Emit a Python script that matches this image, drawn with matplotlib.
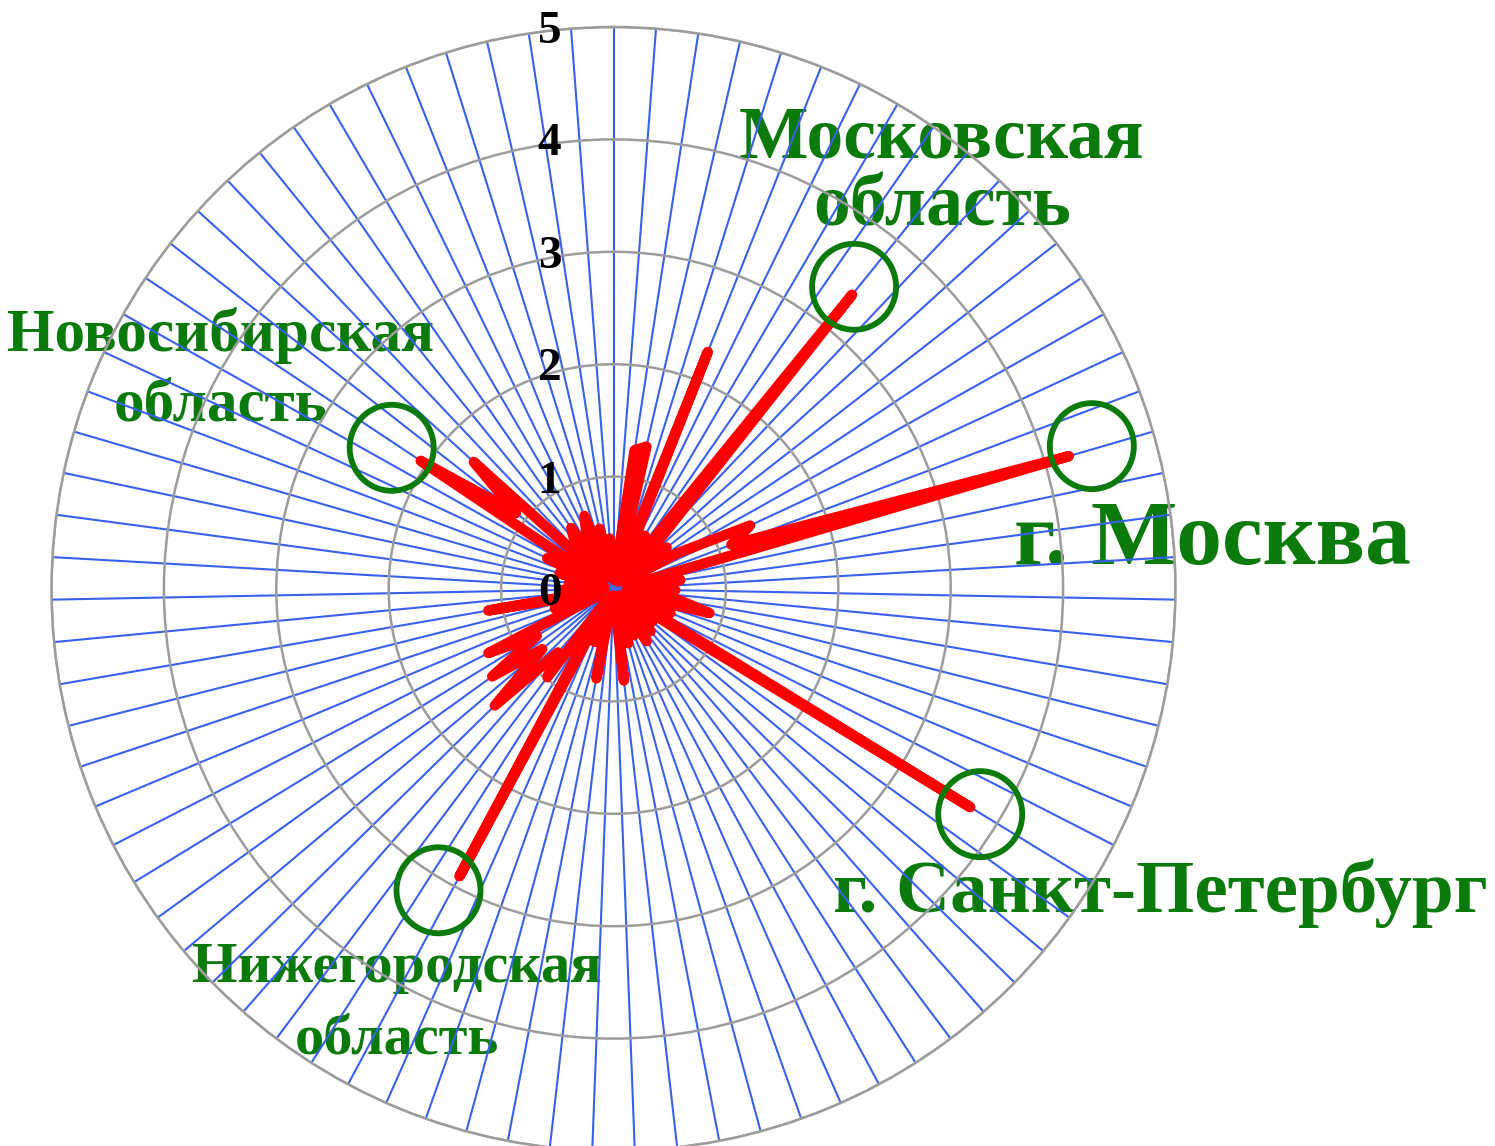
import matplotlib

matplotlib.use("Agg")

import matplotlib.pyplot as plt
import numpy as np
from matplotlib.patches import Ellipse
from matplotlib.transforms import IdentityTransform

# 83 regions, clockwise from the top
region_values = [
    0.10, 0.08, 1.25, 1.30, 0.08, 2.27, 0.12, 0.55, 0.08, 3.37,
    0.55, 0.12, 0.60, 0.12, 0.65, 1.34, 1.12, 4.22, 0.12, 0.60,
    0.12, 0.55, 0.12, 0.60, 0.88, 0.12, 0.55, 0.12, 3.72, 0.12,
    0.45, 0.08, 0.50, 0.12, 0.55, 0.08, 0.45, 0.12, 0.50, 0.12,
    0.82, 0.06, 0.12, 0.06, 0.81, 0.12, 0.50, 0.12, 2.90, 0.12,
    0.98, 0.75, 1.48, 0.83, 1.33, 0.80, 1.25, 0.12, 0.55, 0.12,
    1.13, 0.08, 0.45, 0.12, 0.40, 0.08, 0.50, 0.12, 0.65, 0.12,
    2.06, 1.10, 1.68, 0.12, 0.55, 0.66, 0.12, 0.55, 0.70, 0.12,
    0.55, 0.12, 0.45,
]
# second (blue) series, mostly hidden under the red one
base_values = [
    0.03, 0.04, 0.03, 0.05, 0.03, 0.04, 0.03, 0.03, 0.04, 0.05,
    0.03, 0.03, 0.04, 0.03, 0.03, 0.04, 0.03, 0.05, 0.10, 0.25,
    0.50, 0.25, 0.08, 0.04, 0.03, 0.03, 0.04, 0.03, 0.05, 0.03,
    0.03, 0.04, 0.03, 0.03, 0.04, 0.03, 0.03, 0.04, 0.05, 0.10,
    0.20, 0.35, 0.33, 0.12, 0.04, 0.03, 0.03, 0.04, 0.05, 0.03,
    0.03, 0.04, 0.05, 0.08, 0.15, 0.25, 0.10, 0.04, 0.03, 0.03,
    0.04, 0.03, 0.03, 0.04, 0.03, 0.03, 0.04, 0.03, 0.03, 0.04,
    0.05, 0.03, 0.04, 0.03, 0.03, 0.04, 0.05, 0.10, 0.20, 0.12,
    0.05, 0.04, 0.03,
]
r_ticks = [0, 1, 2, 3, 4, 5]

highlight_idx = [9, 17, 28, 48, 70]
highlight_names = [
    "Московская\nобласть",
    "г. Москва",
    "г. Санкт-Петербург",
    "Нижегородская\nобласть",
    "Новосибирская\nобласть",
]

W, H = 1495, 1146
fig = plt.figure(figsize=(W / 100, H / 100), dpi=100)

# polar area: centre (613.5, 589) px from top-left, radius 562 px
cx, cy, rad = 613.5, 589, 562
ax = fig.add_axes(
    [(cx - rad) / W, (H - cy - rad) / H, 2 * rad / W, 2 * rad / H],
    projection="polar",
)
ax.set_theta_zero_location("N")
ax.set_theta_direction(-1)
ax.set_facecolor("none")

n = len(region_values)
theta = np.deg2rad(np.arange(n) * 360.0 / n)

ax.set_ylim(0, 5)
ax.set_xticks(theta)
ax.set_xticklabels([])
ax.set_yticks(r_ticks[1:])
ax.set_yticklabels([])
ax.tick_params(length=0)
ax.xaxis.grid(True, color="#3a60ee", lw=1.5)
ax.yaxis.grid(True, color="#9c9c9c", lw=1.8)
ax.spines["polar"].set_color("#9c9c9c")
ax.spines["polar"].set_linewidth(1.8)

t_closed = np.append(theta, theta[0])
ax.plot(t_closed, base_values + base_values[:1], color="#3b6cf2", lw=3.5,
        solid_joinstyle="round", zorder=3)
ax.plot(t_closed, region_values + region_values[:1], color="#ff0000", lw=7.5,
        solid_joinstyle="round", solid_capstyle="round", zorder=4)

serif = ["Liberation Serif", "DejaVu Serif"]

for r in r_ticks:
    ax.annotate(str(r), xy=(0, r), xytext=(-64, -5), textcoords="offset pixels",
                ha="center", va="center", fontsize=34, fontweight="bold",
                family=serif, color="black", annotation_clip=False, zorder=5)

# label layout: first-line centre (px from top-left), line gap, font size
label_pos = [(942, 140), (1212, 542), (1160, 893), (397, 968), (221, 336)]
label_gap = [68, 0, 0, 72, 69]
label_size = [53, 66, 54, 42, 44]
circle_off = [(2, 8), (23, 10), (10, -7), (-21, -14), (-29, 13)]

for name, (lx, ly), gap, fs in zip(highlight_names, label_pos, label_gap, label_size):
    for k, line in enumerate(name.split("\n")):
        fig.text(lx / W, 1 - (ly + k * gap) / H, line, ha="center", va="center",
                 fontsize=fs, fontweight="bold", family=serif, color="#0a7a0a",
                 zorder=-1)

fig.canvas.draw()
for i, (ox, oy) in zip(highlight_idx, circle_off):
    px, py = ax.transData.transform((theta[i], region_values[i]))
    ax.add_patch(Ellipse((px + ox, py + oy), 84, 86, transform=IdentityTransform(),
                         fill=False, ec="#0a7a0a", lw=4.2, zorder=6, clip_on=False))

fig.savefig("out.png", dpi=100, facecolor="white")
plt.close(fig)
